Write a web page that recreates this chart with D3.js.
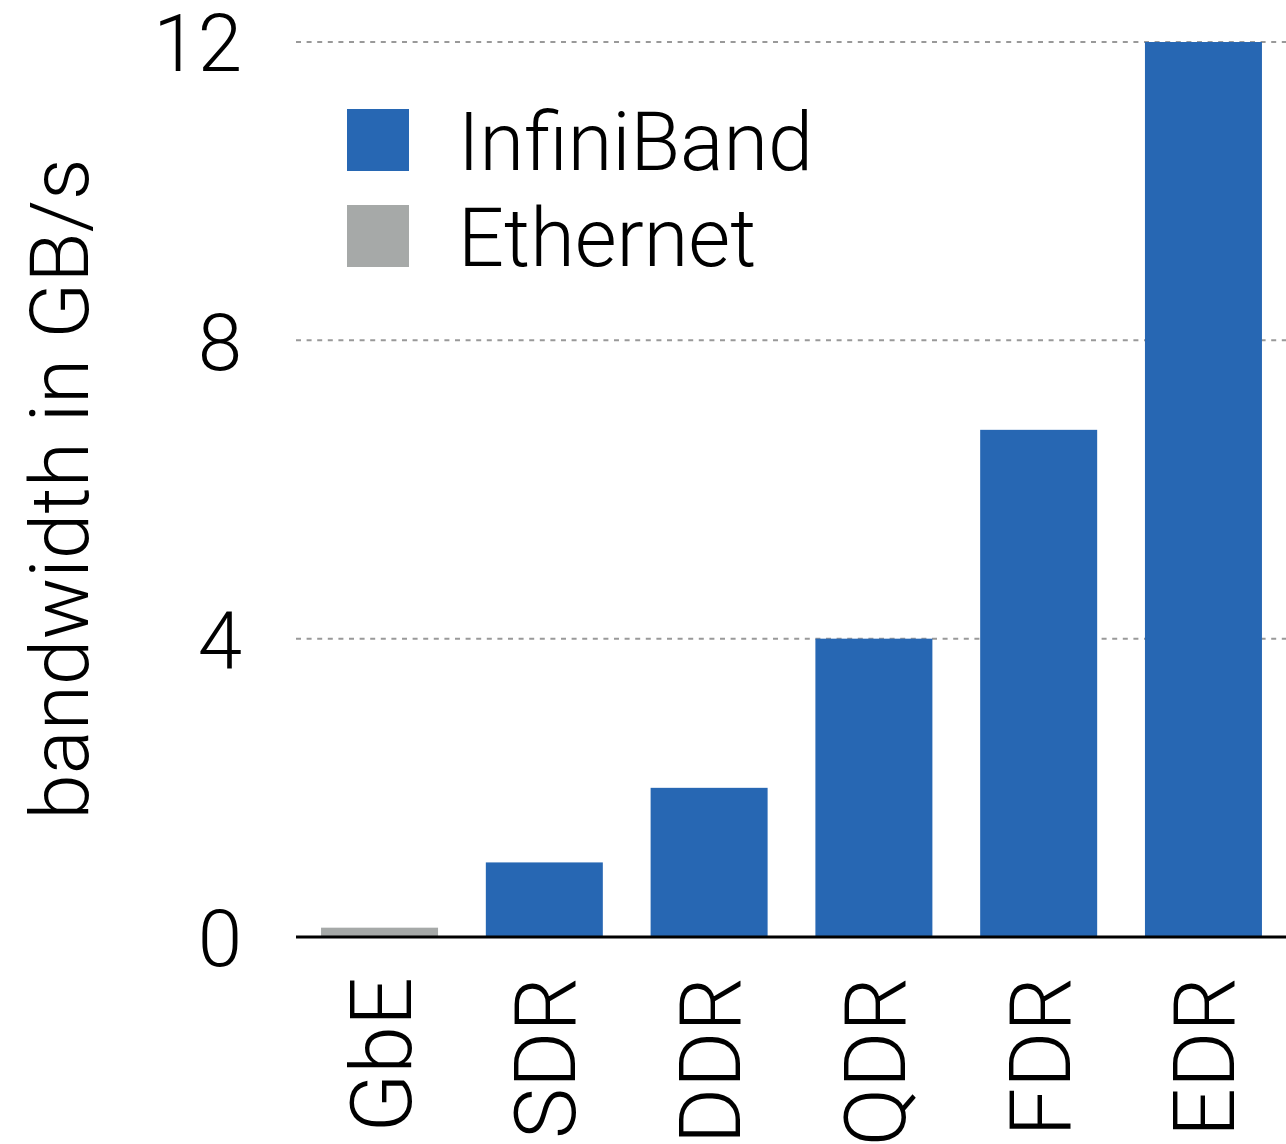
<!DOCTYPE html>
<html>
<head>
<meta charset="utf-8">
<script src="https://cdn.jsdelivr.net/npm/d3@7"></script>
<style>
  body { margin: 0; background: #fff; }
  text { font-family: Roboto, "Liberation Sans", sans-serif; font-weight: 300; fill: #000; }
</style>
</head>
<body>
<div id="chart"></div>
<script>
// data
const categories = ["GbE", "SDR", "DDR", "QDR", "FDR", "EDR"]
const bandwidth = [0.125, 1, 2, 4, 6.8, 12]
const family = ["Ethernet", "InfiniBand", "InfiniBand", "InfiniBand", "InfiniBand", "InfiniBand"]
const yTicks = [0, 4, 8, 12]
const legendItems = ["InfiniBand", "Ethernet"]

const colors = { InfiniBand: "#2767b3", Ethernet: "#a6a9a8" }

const width = 1286, height = 1144
const plotLeft = 296, plotRight = 1287, plotTop = 42, plotBottom = 937

const svg = d3.select("#chart").append("svg")
  .attr("width", width)
  .attr("height", height)

const x = d3.scaleBand()
  .domain(categories)
  .range([plotLeft, plotRight])
  .paddingInner(0.29)
  .paddingOuter(0.152)

const y = d3.scaleLinear()
  .domain([0, 12])
  .range([plotBottom, plotTop])

// dashed grid lines
svg.append("g")
  .selectAll("line")
  .data(yTicks.filter(d => d > 0))
  .enter()
  .append("line")
  .attr("x1", plotLeft)
  .attr("x2", width)
  .attr("y1", d => y(d))
  .attr("y2", d => y(d))
  .attr("stroke", "#999")
  .attr("stroke-width", 2)
  .attr("stroke-dasharray", "5,5.6")

// bars
const rows = categories.map((c, i) => ({ name: c, value: bandwidth[i], family: family[i] }))
svg.append("g")
  .selectAll("rect")
  .data(rows)
  .enter()
  .append("rect")
  .attr("x", d => x(d.name))
  .attr("width", x.bandwidth())
  .attr("y", d => y(d.value))
  .attr("height", d => y(0) - y(d.value))
  .attr("fill", d => colors[d.family])

// y axis labels
const yAxis = d3.axisLeft(y).tickValues(yTicks).tickSize(0).tickPadding(54)
const gy = svg.append("g")
  .attr("transform", `translate(${plotLeft},0)`)
  .call(yAxis)
gy.select(".domain").remove()
gy.selectAll("text")
  .attr("font-size", 80)
  .attr("font-family", null)
  .attr("dy", "0.36em")

// x axis
const xAxis = d3.axisBottom(x).tickSize(0).tickPadding(0)
const gx = svg.append("g")
  .attr("transform", `translate(0,${plotBottom})`)
  .call(xAxis)
gx.select(".domain").remove()
gx.selectAll("text")
  .attr("font-size", 86)
  .attr("font-family", null)
  .attr("text-anchor", "end")
  .attr("transform", "rotate(-90)")
  .attr("x", -40)
  .attr("y", 0)
  .attr("dy", "0.36em")

// baseline
svg.append("line")
  .attr("x1", plotLeft)
  .attr("x2", width)
  .attr("y1", plotBottom)
  .attr("y2", plotBottom)
  .attr("stroke", "#000")
  .attr("stroke-width", 3)

// y title
svg.append("text")
  .attr("transform", `translate(88,489) rotate(-90)`)
  .attr("text-anchor", "middle")
  .attr("font-size", 82)
  .text("bandwidth in GB/s")

// legend
const legend = svg.append("g")
  .selectAll("g")
  .data(legendItems)
  .enter()
  .append("g")
  .attr("transform", (d, i) => `translate(347,${109 + i * 96})`)
legend.append("rect")
  .attr("width", 62)
  .attr("height", 62)
  .attr("fill", d => colors[d])
legend.append("text")
  .attr("x", 111)
  .attr("y", 61)
  .attr("font-size", 81)
  .text(d => d)
</script>
</body>
</html>
